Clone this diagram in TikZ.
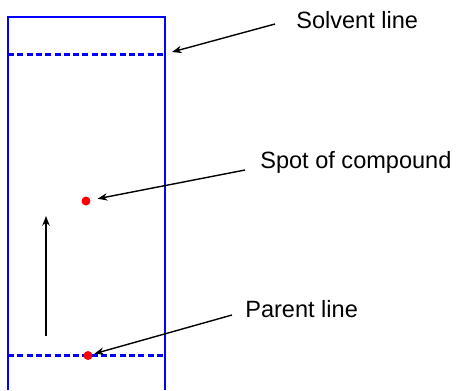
\documentclass[tikz,border=0pt]{standalone}
\usepackage{fontspec}
\setmainfont{Liberation Sans}
\usepackage{xcolor}
\usepackage{tikz}
\usetikzlibrary{arrows.meta,positioning,calc}

\tikzset{
  plate/.style={blue, line width=0.7pt},
  frontline/.style={blue, line width=1.3pt, dash pattern=on 3.4pt off 1.9pt},
  spot/.style={circle, fill=red, inner sep=0pt, minimum size=0.18cm},
  label/.style={anchor=base west, inner sep=0pt, font=\fontsize{13.4}{16}\selectfont},
  pointer/.style={->, line width=0.8pt, >={Stealth[length=5.5pt, width=4.2pt]}}
}

\begin{document}
\begin{tikzpicture}[x=0.02cm, y=-0.02cm]

\useasboundingbox (0, 0) rectangle (457, 390);

% ==================== Plate ====================
\draw[plate] (8, 390) -- (8, 17) -- (165, 17) -- (165, 390);

% Solvent and parent lines
\draw[frontline] (8, 54.5) -- (165, 54.5);
\draw[frontline] (8, 355.5) -- (165, 355.5);

% Spots
\node[spot] (compound) at (86, 201) {};
\node[spot] (start) at (88, 355.5) {};

% Direction of travel
\coordinate (rise tail) at (46, 336);
\coordinate (rise head) at (46, 216);
\draw[pointer, line width=1.1pt] (rise tail) -- (rise head);

% ==================== Labels ====================
\node[label] (solvent label) at (296, 28.3) {Solvent line};
\node[label] (compound label) at (260, 168.3) {Spot of compound};
\node[label] (parent label) at (245, 317.3) {Parent line};

\coordinate (solvent tail) at (275, 24);
\coordinate (solvent head) at (172, 52);
\coordinate (compound tail) at (245, 170);
\coordinate (parent tail) at (232, 315);

\draw[pointer] (solvent tail) -- (solvent head);
\draw[pointer, shorten >=4pt] (compound tail) -- (compound);
\draw[pointer, shorten >=1pt] (parent tail) -- (start);

\end{tikzpicture}
\end{document}
